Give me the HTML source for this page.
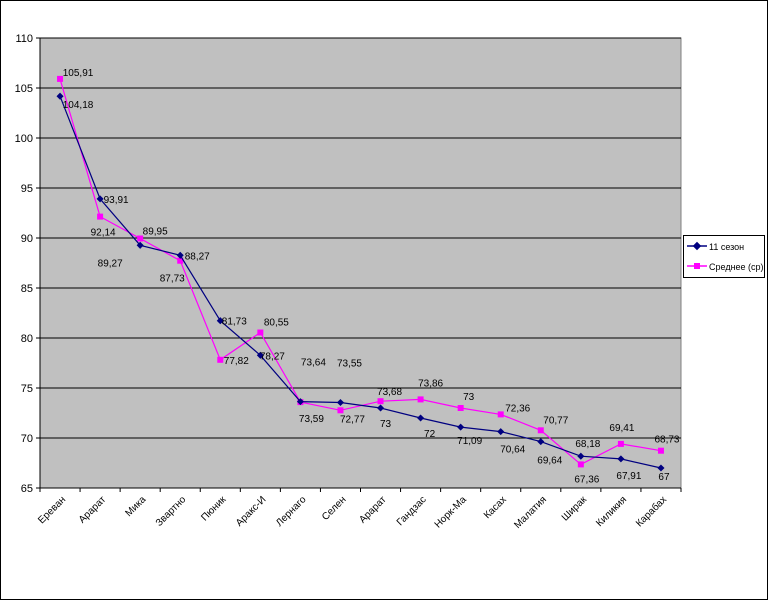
<!DOCTYPE html>
<html><head><meta charset="utf-8"><style>body{margin:0;background:#fff}svg{display:block;font-family:"Liberation Sans",sans-serif}</style></head>
<body>
<svg id="c" width="769" height="601" viewBox="0 0 769 601" xmlns="http://www.w3.org/2000/svg">
<rect x="0.5" y="0.5" width="767" height="599" fill="#fff" stroke="#000"/>
<rect x="40" y="38" width="641" height="450" fill="#c0c0c0" stroke="#808080"/>
<g id="grid"></g><g id="axes"></g><g id="series"></g><g id="labels"></g>
<g>
<rect x="683.5" y="235.5" width="81" height="42" fill="#fff" stroke="#000"/>
<line x1="687" y1="246" x2="707" y2="246" stroke="#000080" stroke-width="1.5"/>
<rect x="694" y="243" width="6" height="6" fill="#000080" transform="rotate(45 697 246)"/>
<text x="709" y="250" font-size="9">11 сезон</text>
<line x1="687" y1="266" x2="707" y2="266" stroke="#ff00ff" stroke-width="1.5"/>
<rect x="694" y="263" width="6" height="6" fill="#ff00ff"/>
<text x="709" y="270" font-size="9">Среднее (ср)</text>
</g>
</svg>
<script>
const categories=["Ереван","Арарат","Мика","Звартнотц","Пюник","Аракс-Импекс","Лернагорц","Селен","Арарат","Гандзасар","Норк-Марас","Касах","Малатия","Ширак","Киликия","Карабах"];
const series1=[104.18,93.91,89.27,88.27,81.73,78.27,73.64,73.55,73,72,71.09,70.64,69.64,68.18,67.91,67];
const series2=[105.91,92.14,89.95,87.73,77.82,80.55,73.59,72.77,73.68,73.86,73,72.36,70.77,67.36,69.41,68.73];
const yTicks=[65,70,75,80,85,90,95,100,105,110];
const off1=[[18,8],[16,0],[-30,17],[17,0],[14,0],[12,0],[13,-40],[9,-40],[5,15],[9,15],[9,13],[12,17],[9,18],[7,-13],[8,16],[3,8]];
const off2=[[18,-7],[3,15],[15,-8],[-8,17],[16,0],[16,-11],[11,16],[12,8],[9,-10],[10,-17],[8,-12],[17,-7],[15,-11],[6,14],[1,-17],[6,-12]];
const NS="http://www.w3.org/2000/svg";
const L=40,R=681,T=38,B=488,ymin=65,ymax=110;
const band=(R-L)/categories.length;
const x=i=>L+band*(i+0.5);
const y=v=>T+(ymax-v)/(ymax-ymin)*(B-T);
function mk(tag,at,parent,txt){const e=document.createElementNS(NS,tag);for(const k in at)e.setAttribute(k,at[k]);if(txt!==undefined)e.textContent=txt;document.getElementById(parent).appendChild(e);return e;}
yTicks.forEach(t=>{
 const g=mk('line',{x1:L,x2:R,y1:y(t),y2:y(t),stroke:'#000','stroke-width':1},'grid');
 
 
 const tk=mk('line',{x1:L-4,x2:L,y1:y(t),y2:y(t),stroke:'#000'},'axes');
 
 
 const tl=mk('text',{x:L-7,y:y(t)+4,'font-size':11,'text-anchor':'end'},'axes',t);
 
 
});
mk('line',{x1:L,x2:L,y1:T,y2:B,stroke:'#000'},'axes');
mk('line',{x1:L,x2:R,y1:B,y2:B,stroke:'#000'},'axes');
for(let i=0;i<=categories.length;i++){mk('line',{x1:L+band*i,x2:L+band*i,y1:B,y2:B+4,stroke:'#000'},'axes');}
categories.forEach((c,i)=>{
 const lx=x(i)+6,ly=B+12;
 const t=mk('text',{x:lx,y:ly,'font-size':10,'text-anchor':'end',transform:`rotate(-45 ${lx} ${ly})`},'axes',c.slice(0,c.length>7?7:c.length));
 
 
});
function draw(data,color,marker,off,name){
 const p=mk('polyline',{points:data.map((v,i)=>x(i)+','+y(v)).join(' '),fill:'none',stroke:color,'stroke-width':1.2},'series');
 
 
 data.forEach((v,i)=>{
  let m;
  if(marker==='d')m=mk('rect',{x:x(i)-2.5,y:y(v)-2.5,width:5,height:5,fill:color,transform:`rotate(45 ${x(i)} ${y(v)})`},'series');
  else m=mk('rect',{x:x(i)-3,y:y(v)-3,width:6,height:6,fill:color},'series');
  
  
  const t=mk('text',{x:x(i)+off[i][0],y:y(v)+off[i][1]+4,'font-size':10,'text-anchor':'middle'},'labels',String(v).replace('.',','));
  
  
 });
}
draw(series2,'#ff00ff','s',off2,'series-average');
draw(series1,'#000080','d',off1,'series-season');
</script>
</body></html>
